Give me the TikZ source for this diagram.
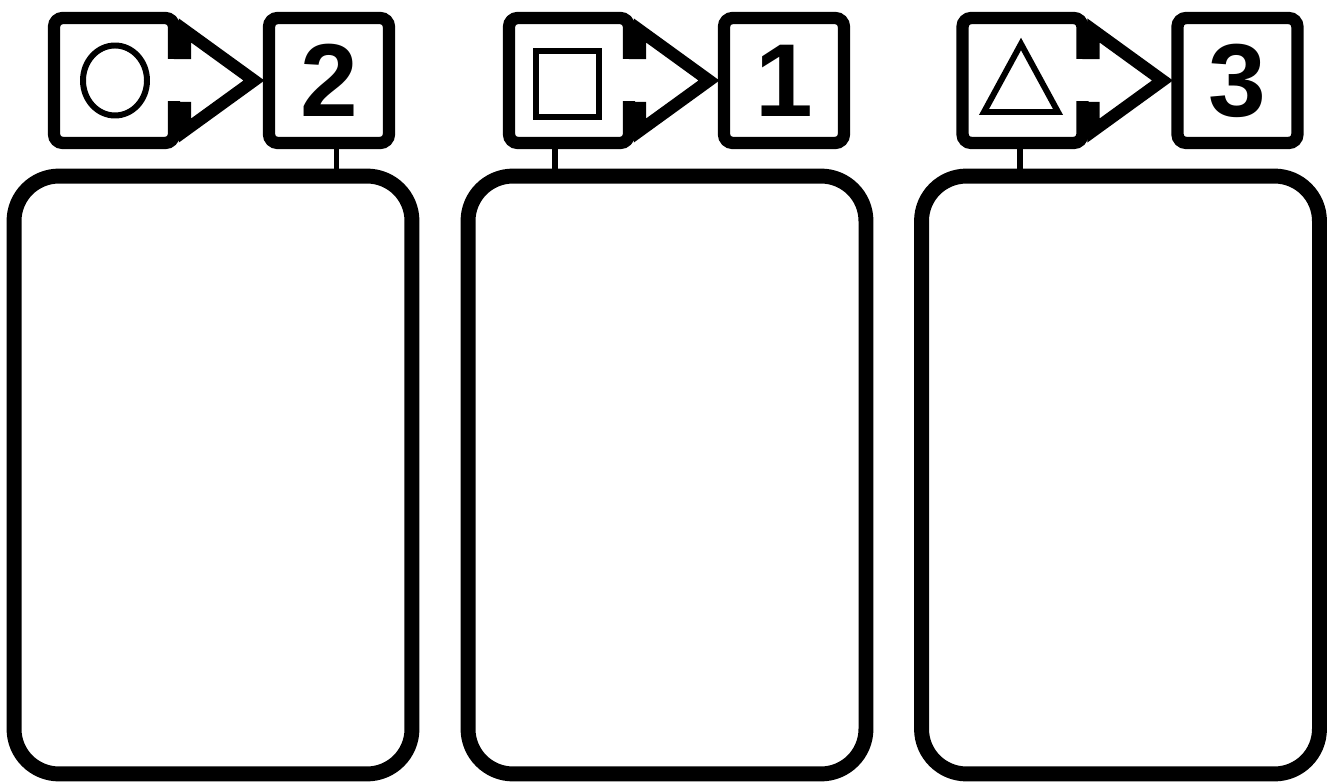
\documentclass[tikz,border=0pt]{standalone}
\usepackage{fontspec}
\setmainfont{Liberation Sans}
\usetikzlibrary{positioning}

\begin{document}
\begin{tikzpicture}[
    x=0.02cm, y=-0.02cm,
    card/.style={draw, line width=8.5pt, rounded corners=0.9cm, minimum width=7.96cm,
                 minimum height=11.96cm, outer sep=0pt},
    tag/.style={draw, line width=7pt, rounded corners=5pt, minimum width=2.4cm,
                minimum height=2.5cm, inner sep=0pt, outer sep=0pt,
                font=\fontsize{59}{60}\selectfont\bfseries},
    sym/.style={line width=3.4pt},
    link/.style={line width=3pt},
    arrowline/.style={line width=7pt, line join=miter}
]

\fill[white] (0,0) rectangle (1336,783);
\useasboundingbox (0,0) rectangle (1336,783);

% answer cards
\node[card] (c1) at (213,475)    {};
\node[card] (c2) at (667,475)    {};
\node[card] (c3) at (1120.5,475) {};

% symbol boxes
\node[tag] (s1) at (114,80.5)    {};
\node[tag] (s2) at (569,80.5)    {};
\node[tag] (s3) at (1022.5,80.5) {};

% arrows out of the symbol boxes
\fill[white] (s1.east) ++(-8,-21) rectangle ++(20,42);
\draw[arrowline] (s1.east) ++(0,-27.5) -- ++(11,0) -- ++(0,-22.5) -- ++(69,50)
                 -- ++(-69,50) -- ++(0,-22.5) -- ++(-11,0);
\fill[white] (s2.east) ++(-8,-21) rectangle ++(20,42);
\draw[arrowline] (s2.east) ++(0,-27.5) -- ++(11,0) -- ++(0,-22.5) -- ++(69,50)
                 -- ++(-69,50) -- ++(0,-22.5) -- ++(-11,0);
\fill[white] (s3.east) ++(-8,-21) rectangle ++(20,42);
\draw[arrowline] (s3.east) ++(0,-27.5) -- ++(11,0) -- ++(0,-22.5) -- ++(69,50)
                 -- ++(-69,50) -- ++(0,-22.5) -- ++(-11,0);

% number boxes
\node[tag, right=1.9cm of s1] (n1) {2};
\node[tag, right=1.9cm of s2] (n2) {1};
\node[tag, right=1.9cm of s3] (n3) {3};

% symbols
\draw[sym] (s1.center) ++(1,0) ellipse [x radius=32, y radius=35];
\draw[sym] (s2.center) ++(-33,-29.5) rectangle ++(63,66);
\draw[sym, line join=miter] (s3.center) ++(-1.5,-36.5) -- ++(37,68) -- ++(-74,0) -- cycle;

% links down to the cards
\draw[link] ([xshift=0.15cm]n1.south)  -- ([xshift=0.15cm]n1.south |- c1.north);
\draw[link] ([xshift=-0.28cm]s2.south) -- ([xshift=-0.28cm]s2.south |- c2.north);
\draw[link] ([xshift=-0.05cm]s3.south) -- ([xshift=-0.05cm]s3.south |- c3.north);

\end{tikzpicture}
\end{document}
